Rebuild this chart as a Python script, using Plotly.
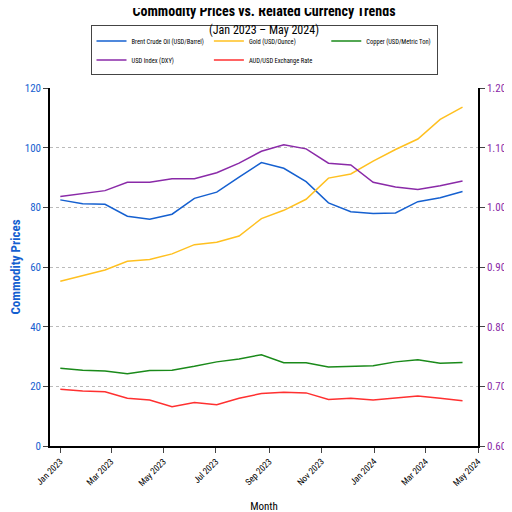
import plotly.graph_objects as go

dates = ["2023-01-01","2023-01-27","2023-02-22","2023-03-20","2023-04-15","2023-05-11","2023-06-06",
         "2023-07-02","2023-07-28","2023-08-23","2023-09-18","2023-10-14","2023-11-09","2023-12-05",
         "2023-12-31","2024-01-26","2024-02-21","2024-03-18","2024-04-13"]
brent = [82.5,81.2,81.0,77.0,76.0,77.7,83.0,85.1,90.1,95.0,93.1,88.6,81.5,78.5,77.9,78.1,81.9,83.2,85.3]
gold = [55.2,57.0,59.0,61.9,62.5,64.4,67.5,68.3,70.4,76.2,79.0,82.7,89.8,91.2,95.5,99.4,102.9,109.5,113.6]
copper = [26.1,25.4,25.1,24.2,25.3,25.4,26.7,28.2,29.2,30.6,27.9,27.9,26.5,26.6,26.9,28.2,28.9,27.7,28.0]
dxy = [1.018,1.023,1.028,1.042,1.042,1.048,1.048,1.058,1.074,1.094,1.105,1.098,1.074,1.071,1.042,1.034,1.030,1.036,1.044]
aud = [0.695,0.692,0.691,0.680,0.677,0.666,0.673,0.669,0.680,0.688,0.690,0.689,0.678,0.680,0.677,0.680,0.684,0.680,0.676]

F = "Liberation Sans Narrow, Arial Narrow, Roboto Condensed, sans-serif"
fig = go.Figure()
fig.add_trace(go.Scatter(x=dates, y=brent, name="Brent Crude Oil (USD/Barrel)", mode="lines", line=dict(color="#1560d0", width=1.5)))
fig.add_trace(go.Scatter(x=dates, y=gold, name="Gold (USD/Ounce)", mode="lines", line=dict(color="#ffc020", width=1.5)))
fig.add_trace(go.Scatter(x=dates, y=copper, name="Copper (USD/Metric Ton)", mode="lines", line=dict(color="#1a8a1a", width=1.5)))
fig.add_trace(go.Scatter(x=dates, y=dxy, name="USD Index (DXY)", mode="lines", yaxis="y2", line=dict(color="#8a2aa8", width=1.5)))
fig.add_trace(go.Scatter(x=dates, y=aud, name="AUD/USD Exchange Rate", mode="lines", yaxis="y2", line=dict(color="#ff3030", width=1.5)))

fig.update_layout(
    width=512, height=512, paper_bgcolor="white", plot_bgcolor="white",
    font=dict(family=F, size=10, color="black"),
    margin=dict(l=42, r=42, t=80, b=74, autoexpand=False),
    title=dict(text="<b>Commodity Prices vs. Related Currency Trends</b><br><span style='font-size:12px'>(Jan 2023 – May 2024)</span>",
               x=0.5, xanchor="center", y=0.985, yanchor="top", font=dict(size=14)),
    legend=dict(orientation="h", x=0.5, xanchor="center", y=1.035, yanchor="bottom",
                bordercolor="#444", borderwidth=1, font=dict(size=6.5), itemwidth=30, tracegroupgap=0),
    xaxis=dict(title=dict(text="Month", font=dict(size=11)), type="date", range=["2022-12-20","2024-05-01"],
               tickvals=["2023-01-01","2023-03-01","2023-05-01","2023-07-01","2023-09-01","2023-11-01","2024-01-01","2024-03-01","2024-05-01"],
               ticktext=["Jan 2023","Mar 2023","May 2023","Jul 2023","Sep 2023","Nov 2023","Jan 2024","Mar 2024","May 2024"],
               tickangle=-45, showline=True, linecolor="black", linewidth=1.5, showgrid=False, ticks="outside", tickfont=dict(size=9), automargin=False),
    yaxis=dict(title=dict(text="<b>Commodity Prices</b>", font=dict(color="#1560d0", size=13), standoff=8), range=[0,120], dtick=20,
               tickfont=dict(color="#1560d0", size=11), showline=True, linecolor="black", linewidth=1.5, automargin=False,
               gridcolor="#bbb", griddash="dot", zeroline=False, ticks="outside"),
    yaxis2=dict(title=dict(text="<b>Currency / Index</b>", font=dict(color="#8a2aa8", size=13), standoff=8), range=[0.6,1.2], dtick=0.1,
                tickformat=".2f", tickfont=dict(color="#8a2aa8", size=11), overlaying="y", side="right", automargin=False,
                showline=True, linecolor="black", linewidth=1.5, showgrid=False, zeroline=False, ticks="outside"),
)
fig.write_html("out.html")
